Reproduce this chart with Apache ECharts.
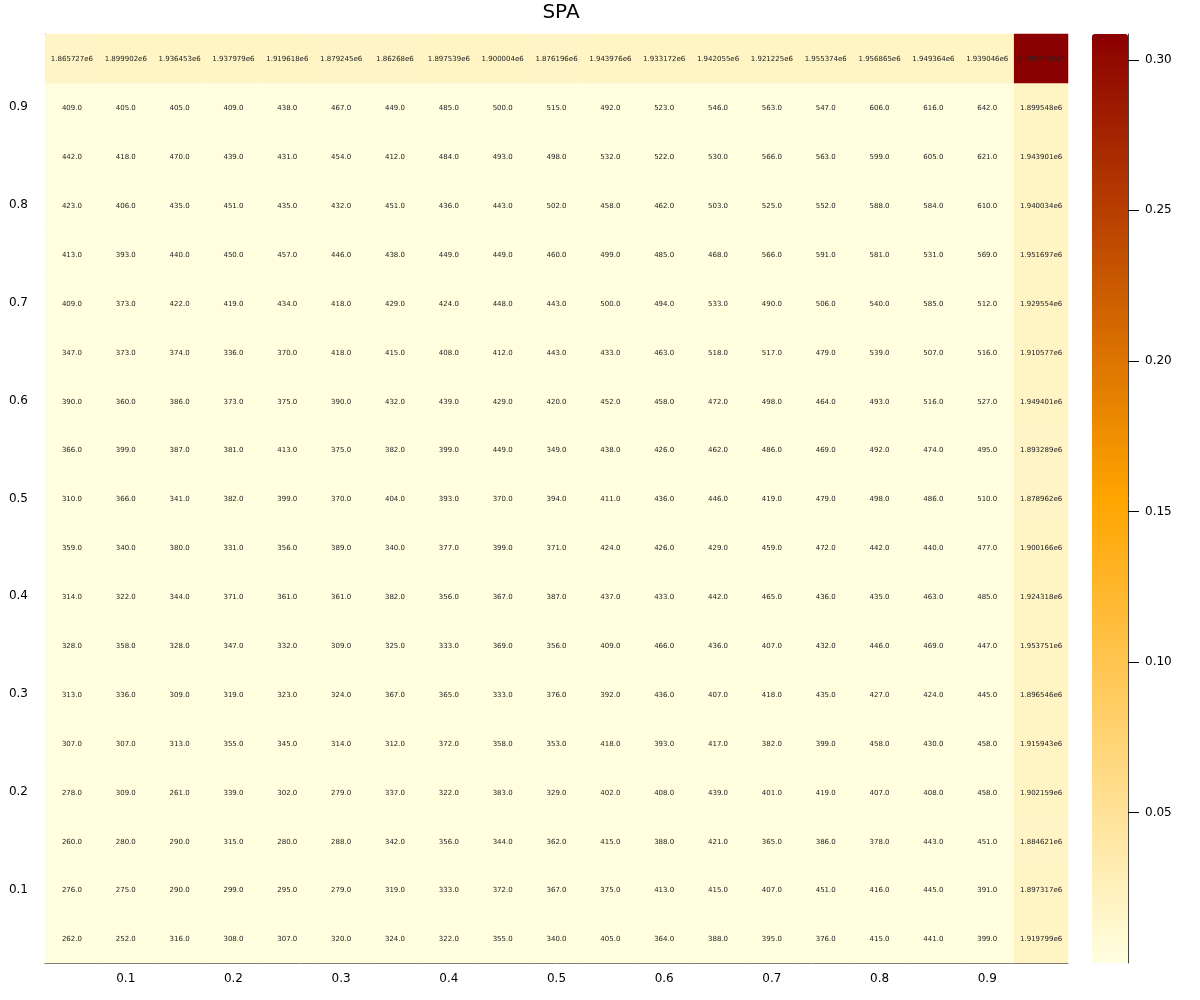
<!DOCTYPE html>
<html>
<head>
<meta charset="utf-8">
<title>SPA</title>
<script src="https://cdn.jsdelivr.net/npm/echarts@6/dist/echarts.min.js"></script>
<style>
  html, body { margin: 0; padding: 0; background: #fff; }
  #chart { width: 1200px; height: 1000px; }
</style>
</head>
<body>
<div id="chart"></div>
<script>
// axis categories (cell centres), bottom -> top / left -> right
var xCats = ['0.05','0.1','0.15','0.2','0.25','0.3','0.35','0.4','0.45','0.5','0.55','0.6','0.65','0.7','0.75','0.8','0.85','0.9','0.95'];
var yCats = ['0.05','0.1','0.15','0.2','0.25','0.3','0.35','0.4','0.45','0.5','0.55','0.6','0.65','0.7','0.75','0.8','0.85','0.9','0.95'];
var tickLabels = ['0.1','0.2','0.3','0.4','0.5','0.6','0.7','0.8','0.9'];
var colorbarTicks = [0.05, 0.10, 0.15, 0.20, 0.25, 0.30];

// top row: column sums, last entry is the grand total (top-right cell)
var colSums = [1865727, 1899902, 1936453, 1937979, 1919618, 1879245, 1862680, 1897539, 1900004,
               1876196, 1943976, 1933172, 1942055, 1921225, 1955374, 1956865, 1949364, 1939046];
var total = 30857082;

// right column: row sums, listed top (0.9) -> bottom (0.05)
var rowSums = [1899548, 1943901, 1940034, 1951697, 1929554, 1910577, 1949401, 1893289, 1878962,
               1900166, 1924318, 1953751, 1896546, 1915943, 1902159, 1884621, 1897317, 1919799];

// counts, rows listed top (0.9) -> bottom (0.05)
var r090 = [409,405,405,409,438,467,449,485,500,515,492,523,546,563,547,606,616,642];
var r085 = [442,418,470,439,431,454,412,484,493,498,532,522,530,566,563,599,605,621];
var r080 = [423,406,435,451,435,432,451,436,443,502,458,462,503,525,552,588,584,610];
var r075 = [413,393,440,450,457,446,438,449,449,460,499,485,468,566,591,581,531,569];
var r070 = [409,373,422,419,434,418,429,424,448,443,500,494,533,490,506,540,585,512];
var r065 = [347,373,374,336,370,418,415,408,412,443,433,463,518,517,479,539,507,516];
var r060 = [390,360,386,373,375,390,432,439,429,420,452,458,472,498,464,493,516,527];
var r055 = [366,399,387,381,413,375,382,399,449,349,438,426,462,486,469,492,474,495];
var r050 = [310,366,341,382,399,370,404,393,370,394,411,436,446,419,479,498,486,510];
var r045 = [359,340,380,331,356,389,340,377,399,371,424,426,429,459,472,442,440,477];
var r040 = [314,322,344,371,361,361,382,356,367,387,437,433,442,465,436,435,463,485];
var r035 = [328,358,328,347,332,309,325,333,369,356,409,466,436,407,432,446,469,447];
var r030 = [313,336,309,319,323,324,367,365,333,376,392,436,407,418,435,427,424,445];
var r025 = [307,307,313,355,345,314,312,372,358,353,418,393,417,382,399,458,430,458];
var r020 = [278,309,261,339,302,279,337,322,383,329,402,408,439,401,419,407,408,458];
var r015 = [260,280,290,315,280,288,342,356,344,362,415,388,421,365,386,378,443,451];
var r010 = [276,275,290,299,295,279,319,333,372,367,375,413,415,407,451,416,445,391];
var r005 = [262,252,316,308,307,320,324,322,355,340,405,364,388,395,376,415,441,399];
var rows = [r090,r085,r080,r075,r070,r065,r060,r055,r050,r045,r040,r035,r030,r025,r020,r015,r010,r005];

var colorScale = 1e8; // colour bar shows value / 1e8

function fmtSum(v) {
    return v.toExponential().replace('e+', 'e');
}

var cells = [];
var n = rows.length;
rows.forEach(function(row, ri) {
    var yi = n - 1 - ri;
    row.forEach(function(v, xi) {
        cells.push({value: [xi, yi, v / colorScale], txt: v.toFixed(1)});
    });
    cells.push({value: [n, yi, rowSums[ri] / colorScale], txt: fmtSum(rowSums[ri])});
});
colSums.forEach(function(v, xi) {
    cells.push({value: [xi, n, v / colorScale], txt: fmtSum(v)});
});
cells.push({value: [n, n, total / colorScale], txt: fmtSum(total)});

var font = 'DejaVu Sans';
var chart = echarts.init(document.getElementById('chart'));
chart.setOption({
    backgroundColor: '#fff',
    animation: false,
    textStyle: {fontFamily: font},
    title: {
        text: 'SPA', left: 556, top: -2, textAlign: 'center',
        textStyle: {fontFamily: font, fontSize: 20, fontWeight: 'normal', color: '#000'}
    },
    grid: [
        {left: 45, top: 34, width: 1023, height: 929},
        {left: 1092, top: 34, width: 36, height: 929}
    ],
    xAxis: [{
        type: 'category', gridIndex: 0, data: xCats,
        axisLine: {lineStyle: {color: '#555'}},
        axisTick: {show: false},
        splitLine: {show: false},
        axisLabel: {
            interval: function(i, v) { return tickLabels.indexOf(v) >= 0; },
            color: '#000', fontSize: 12, margin: 10, fontFamily: font
        }
    }, {
        type: 'value', gridIndex: 1, show: false, min: 0, max: 1
    }],
    yAxis: [{
        type: 'category', gridIndex: 0, data: yCats,
        axisLine: {lineStyle: {color: '#555'}},
        axisTick: {show: false},
        splitLine: {show: false},
        axisLabel: {
            interval: function(i, v) { return tickLabels.indexOf(v) >= 0; },
            color: '#000', fontSize: 12, margin: 17, fontFamily: font
        }
    }, {
        type: 'value', gridIndex: 1, position: 'right', z: 10,
        min: 0, max: total / colorScale, interval: 0.05,
        axisLine: {show: true, onZero: false, lineStyle: {color: '#444'}},
        axisTick: {show: true, inside: false, length: 11, customValues: colorbarTicks, lineStyle: {color: '#000'}},
        splitLine: {show: false},
        axisLabel: {
            color: '#000', fontSize: 12, margin: 17, fontFamily: font,
            customValues: colorbarTicks,
            formatter: function(v) { return v.toFixed(2); }
        }
    }],
    visualMap: {
        type: 'continuous', min: 0, max: total / colorScale, dimension: 2,
        seriesIndex: 0, calculable: false, hoverLink: false,
        left: 1092, top: 34, itemWidth: 36, itemHeight: 929, padding: 0,
        text: ['', ''], showLabel: false,
        inRange: {color: ['#ffffe0', '#ffa500', '#8b0000']}
    },
    series: [{
        type: 'heatmap', xAxisIndex: 0, yAxisIndex: 0,
        data: cells,
        itemStyle: {borderWidth: 0},
        label: {
            show: true, fontSize: 7, color: '#222', fontFamily: font,
            offset: [0, 1],
            formatter: function(p) { return p.data.txt; }
        },
        emphasis: {disabled: true}
    }]
});
</script>
</body>
</html>
